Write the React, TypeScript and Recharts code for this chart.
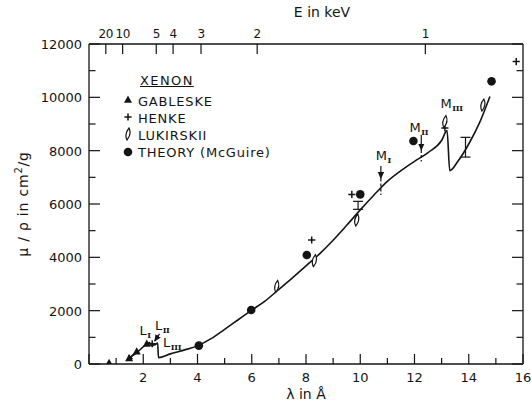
import React from 'react';
import { ComposedChart, Line, Scatter, XAxis, YAxis, ReferenceLine, ErrorBar, Legend } from 'recharts';

const FONT = '"DejaVu Sans", sans-serif';
const SERIF = '"DejaVu Serif", serif';
const INK = '#141414';

// ---- axes ----
const lambdaTicks = [0, 1, 2, 3, 4, 5, 6, 7, 8, 9, 10, 11, 12, 13, 14, 15, 16];
const energyTicks = [0.62, 1.24, 2.48, 3.1, 4.13, 6.2, 12.4];
const energyLabels = ['20', '10', '5', '4', '3', '2', '1'];
const muTicks = [0, 1000, 2000, 3000, 4000, 5000, 6000, 7000, 8000, 9000, 10000, 11000, 12000];

// ---- theory curve (McGuire) ----
const theoryCurve = [
  { lam: 1.4, mu: 150 },
  { lam: 1.8, mu: 460 },
  { lam: 2.12, mu: 740 },
  { lam: 2.24, mu: 800 },
  { lam: 2.26, mu: 720 },
  { lam: 2.36, mu: 690 },
  { lam: 2.4, mu: 760 },
  { lam: 2.42, mu: 710 },
  { lam: 2.53, mu: 790 },
  { lam: 2.56, mu: 240 },
  { lam: 3.0, mu: 380 },
  { lam: 3.5, mu: 520 },
  { lam: 4.0, mu: 680 },
  { lam: 4.5, mu: 950 },
  { lam: 5.0, mu: 1300 },
  { lam: 5.5, mu: 1660 },
  { lam: 6.0, mu: 2020 },
  { lam: 6.5, mu: 2370 },
  { lam: 7.0, mu: 2800 },
  { lam: 7.5, mu: 3230 },
  { lam: 8.0, mu: 3680 },
  { lam: 8.5, mu: 4130 },
  { lam: 9.0, mu: 4640 },
  { lam: 9.5, mu: 5200 },
  { lam: 10.0, mu: 5780 },
  { lam: 10.5, mu: 6330 },
  { lam: 11.0, mu: 6850 },
  { lam: 11.5, mu: 7250 },
  { lam: 12.0, mu: 7600 },
  { lam: 12.5, mu: 7930 },
  { lam: 13.0, mu: 8380 },
  { lam: 13.2, mu: 8750 },
  { lam: 13.3, mu: 7250 },
  { lam: 13.6, mu: 7600 },
  { lam: 14.0, mu: 8250 },
  { lam: 14.4, mu: 9050 },
  { lam: 14.78, mu: 10030 },
];

// ---- measurements ----
const gableske = [
  { lam: 0.74, mu: 30 },
  { lam: 1.48, mu: 210 },
  { lam: 1.76, mu: 460 },
  { lam: 2.13, mu: 750 },
];
const henke = [
  { lam: 2.33, mu: 760 },
  { lam: 8.21, mu: 4650 },
  { lam: 9.69, mu: 6360 },
  { lam: 13.12, mu: 8850 },
  { lam: 15.75, mu: 11340 },
];
const lukirskii = [
  { lam: 6.92, mu: 2910 },
  { lam: 8.31, mu: 3875 },
  { lam: 9.87, mu: 5400 },
  { lam: 13.12, mu: 9090 },
  { lam: 14.52, mu: 9710 },
];
const lukirskiiErr = [
  { lam: 9.92, mu: 5950, err: 150 },
  { lam: 13.88, mu: 8130, err: 370 },
];
const theoryPoints = [
  { lam: 4.05, mu: 690 },
  { lam: 5.98, mu: 2025 },
  { lam: 8.03, mu: 4090 },
  { lam: 10.0, mu: 6360 },
  { lam: 11.96, mu: 8360 },
  { lam: 14.84, mu: 10600 },
];

// ---- absorption edge annotations ----
const edgeLabels = [
  { lam: 1.86, mu: 1080, name: 'L', sub: 'I' },
  { lam: 2.43, mu: 1290, name: 'L', sub: 'II' },
  { lam: 2.73, mu: 640, name: 'L', sub: 'III' },
  { lam: 10.57, mu: 7650, name: 'M', sub: 'I' },
  { lam: 11.82, mu: 8710, name: 'M', sub: 'II' },
  { lam: 12.96, mu: 9585, name: 'M', sub: 'III' },
];
const edgeArrows = [
  { lam0: 1.7, mu0: 420, lam1: 1.38, mu1: 120 },
  { lam0: 2.6, mu0: 1130, lam1: 2.42, mu1: 860 },
  { lam0: 10.76, mu0: 7425, lam1: 10.76, mu1: 6960 },
  { lam0: 12.25, mu0: 8590, lam1: 12.25, mu1: 8025 },
];
const edgeDashes = [
  { lam: 10.76, from: 6960, to: 6340 },
  { lam: 12.25, from: 8025, to: 7590 },
];

// ---- legend ----
const legendTitle = 'XENON';
const legendNames = ['GABLESKE', 'HENKE', 'LUKIRSKII', 'THEORY (McGuire)'];

// ---- symbols ----
const Tri = ({ cx, cy }: any) => (
  <polygon points={`${cx},${cy - 4.5} ${cx - 4},${cy + 2.8} ${cx + 4},${cy + 2.8}`} fill={INK} />
);
const Plus = ({ cx, cy }: any) => (
  <path d={`M${cx - 3.6},${cy} H${cx + 3.6} M${cx},${cy - 3.6} V${cy + 3.6}`} stroke={INK} strokeWidth={1.5} fill="none" />
);
const Lens = ({ cx, cy }: any) => (
  <path d={`M${cx + 1},${cy - 6} Q${cx + 4},${cy} ${cx - 1},${cy + 6} Q${cx - 4},${cy} ${cx + 1},${cy - 6} Z`} stroke={INK} strokeWidth={1.2} fill="#fff" />
);
const Dot = ({ cx, cy }: any) => <circle cx={cx} cy={cy} r={4.3} fill={INK} />;
const Empty = () => <g />;

const EdgeLabel = ({ cx, cy, payload }: any) => (
  <text x={cx} y={cy} fontFamily={FONT} fontSize={13} fill={INK}>
    <tspan>{payload.name}</tspan>
    <tspan dx={0.5} dy={3} fontSize={8} fontFamily={SERIF} fontWeight="bold" letterSpacing={-0.3}>{payload.sub}</tspan>
  </text>
);

// ---- ticks ----
const BottomTick = ({ x, y, payload }: any) => {
  const v = payload.value;
  const major = v % 2 === 0;
  return (
    <g>
      <line x1={x} x2={x} y1={y} y2={y - (major ? 10 : 6)} stroke={INK} strokeWidth={1.2} />
      {major && v > 0 ? (
        <text x={x} y={y + 18} textAnchor="middle" fontFamily={FONT} fontSize={13} fill={INK}>{v}</text>
      ) : null}
    </g>
  );
};
const TopTick = ({ x, y, payload, index }: any) => {
  const i = energyTicks.indexOf(payload.value);
  return (
    <g>
      <line x1={x} x2={x} y1={y} y2={y + 10} stroke={INK} strokeWidth={1.2} />
      <text x={x} y={y - 6} textAnchor="middle" fontFamily={FONT} fontSize={12} letterSpacing={-0.4} fill={INK}>
        {energyLabels[i >= 0 ? i : index]}
      </text>
    </g>
  );
};
const LeftTick = ({ x, y, payload }: any) => {
  const v = payload.value;
  const major = v % 2000 === 0;
  return (
    <g>
      <line x1={x} x2={x + (major ? 11 : 6.5)} y1={y} y2={y} stroke={INK} strokeWidth={1.2} />
      {major ? (
        <text x={x - 7} y={y + 5} textAnchor="end" fontFamily={FONT} fontSize={13} fill={INK}>{v}</text>
      ) : null}
    </g>
  );
};
const RightTick = ({ x, y, payload }: any) => {
  const v = payload.value;
  const major = v % 2000 === 0;
  return <line x1={x} x2={x - (major ? 11 : 6.5)} y1={y} y2={y} stroke={INK} strokeWidth={1.2} />;
};

const YTitle = (props: any) => {
  const vb = props.viewBox || { x: 0, y: 44, width: 89, height: 320 };
  const cx = vb.x + 28;
  const cy = vb.y + vb.height / 2;
  return (
    <text x={cx} y={cy} transform={`rotate(-90, ${cx}, ${cy})`} textAnchor="middle" fontFamily={FONT} fontSize={14} letterSpacing={0.8} fill={INK}>
      <tspan>μ / ρ  in cm</tspan>
      <tspan dy={-6} fontSize={10}>2</tspan>
      <tspan dy={6}>/g</tspan>
    </text>
  );
};
const XTitle = (props: any) => {
  const vb = props.viewBox || { x: 89, y: 364, width: 434, height: 40 };
  return (
    <text x={vb.x + vb.width / 2} y={vb.y + 35} textAnchor="middle" fontFamily={FONT} fontSize={14} fill={INK}>λ in Å</text>
  );
};
const TopTitle = (props: any) => {
  const vb = props.viewBox || { x: 89, y: 0, width: 434, height: 44 };
  return (
    <text x={vb.x + vb.width / 2 + 16} y={vb.y + 17} textAnchor="middle" fontFamily={FONT} fontSize={14} fill={INK}>E in keV</text>
  );
};

const legendSymbols = [Tri, Plus, Lens, Dot];

const LegendBox = () => (
  <div style={{ position: 'relative', width: 200, height: 100, fontFamily: FONT, fontSize: 13, color: INK, lineHeight: '13px', letterSpacing: 0.8 }}>
    <span style={{ position: 'absolute', left: 20, top: 14, textDecoration: 'underline', whiteSpace: 'nowrap', letterSpacing: 1.4 }}>{legendTitle}</span>
    {legendNames.map((n, i) => {
      const Sym = legendSymbols[i];
      const top = 34.5 + i * 17.2;
      return (
        <React.Fragment key={n}>
          <svg width={14} height={14} style={{ position: 'absolute', left: 0.5, top: top - 1.5 }}>
            <Sym cx={7} cy={7} />
          </svg>
          <span style={{ position: 'absolute', left: 18, top, whiteSpace: 'nowrap' }}>{n}</span>
        </React.Fragment>
      );
    })}
  </div>
);

export default function App() {
  return (
    <div style={{ position: 'absolute', left: 0, top: 0, width: 532, height: 404, background: '#fff' }}>
      <svg width={0} height={0} style={{ position: 'absolute' }}>
        <defs>
          <marker id="ah" viewBox="0 0 10 10" refX="9" refY="5" markerWidth="7" markerHeight="7" markerUnits="userSpaceOnUse" orient="auto">
            <path d="M0,0.5 L10,5 L0,9.5 z" fill={INK} />
          </marker>
        </defs>
      </svg>
      <ComposedChart width={532} height={404} margin={{ top: 0, right: 0, bottom: 0, left: 0 }}>
        <XAxis
          dataKey="lam" type="number" domain={[0, 16]} ticks={lambdaTicks} interval={0}
          height={40} tickSize={0} tickMargin={0} tickLine={false} tick={<BottomTick />}
          axisLine={{ stroke: INK, strokeWidth: 1.3 }} allowDataOverflow label={<XTitle />}
        />
        <XAxis
          xAxisId="top" dataKey="lam" orientation="top" type="number" domain={[0, 16]} ticks={energyTicks} interval={0}
          height={44} tickSize={0} tickMargin={0} tickLine={false} tick={<TopTick />}
          axisLine={{ stroke: INK, strokeWidth: 1.3 }} allowDataOverflow label={<TopTitle />}
        />
        <YAxis
          dataKey="mu" type="number" domain={[0, 12000]} ticks={muTicks} interval={0}
          width={89} tickSize={0} tickMargin={0} tickLine={false} tick={<LeftTick />}
          axisLine={{ stroke: INK, strokeWidth: 1.3 }} allowDataOverflow label={<YTitle />}
        />
        <YAxis
          yAxisId="right" dataKey="mu" orientation="right" type="number" domain={[0, 12000]} ticks={muTicks} interval={0}
          width={9} tickSize={0} tickMargin={0} tickLine={false} tick={<RightTick />}
          axisLine={{ stroke: INK, strokeWidth: 1.3 }} allowDataOverflow
        />
        <Legend
          layout="horizontal" verticalAlign="middle" align="center"
          content={<LegendBox />}
          wrapperStyle={{ position: 'absolute', left: 120, top: 60, width: 200, height: 100 }}
        />
        <Line
          xAxisId="top" yAxisId="right"
          data={theoryCurve} dataKey="mu" type="linear" stroke="none" strokeWidth={0}
          dot={false} activeDot={false} isAnimationActive={false} legendType="none"
        />
        <Line
          data={theoryCurve} dataKey="mu" type="monotoneX" stroke={INK} strokeWidth={1.6}
          dot={false} activeDot={false} isAnimationActive={false} legendType="none"
        />
        {edgeArrows.map((a, i) => (
          <ReferenceLine
            key={'a' + i}
            segment={[{ x: a.lam0, y: a.mu0 }, { x: a.lam1, y: a.mu1 }]}
            stroke={INK} strokeWidth={1.2} markerEnd="url(#ah)" ifOverflow="visible"
          />
        ))}
        {edgeDashes.map((d, i) => (
          <ReferenceLine
            key={'d' + i}
            segment={[{ x: d.lam, y: d.from }, { x: d.lam, y: d.to }]}
            stroke={INK} strokeWidth={1.2} strokeDasharray="3 2" ifOverflow="visible"
          />
        ))}
        <Scatter data={gableske} shape={<Tri />} isAnimationActive={false} legendType="none" />
        <Scatter data={henke} shape={<Plus />} isAnimationActive={false} legendType="none" />
        <Scatter data={lukirskii} shape={<Lens />} isAnimationActive={false} legendType="none" />
        <Scatter data={lukirskiiErr} shape={<Empty />} isAnimationActive={false} legendType="none">
          <ErrorBar dataKey="err" direction="y" width={5} stroke={INK} strokeWidth={1.2} />
        </Scatter>
        <Scatter data={theoryPoints} shape={<Dot />} isAnimationActive={false} legendType="none" />
        <Scatter data={edgeLabels} shape={<EdgeLabel />} isAnimationActive={false} legendType="none" />
      </ComposedChart>
    </div>
  );
}
